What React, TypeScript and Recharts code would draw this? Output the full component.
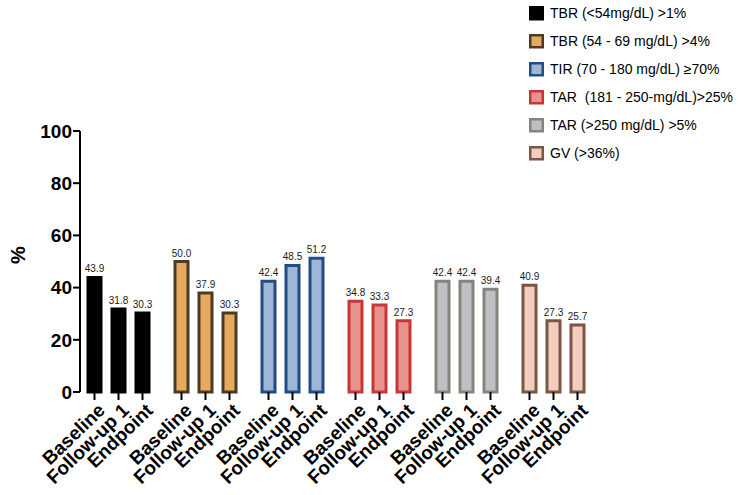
import { BarChart, Bar, XAxis, YAxis, LabelList, Cell } from 'recharts';

const categories = [
  'TBR (<54mg/dL) >1%',
  'TBR (54 - 69 mg/dL) >4%',
  'TIR (70 - 180 mg/dL) ≥70%',
  'TAR  (181 - 250-mg/dL)>25%',
  'TAR (>250 mg/dL) >5%',
  'GV (>36%)',
];
const timepoints = ['Baseline', 'Follow-up 1', 'Endpoint'];
const baseline = [43.9, 50.0, 42.4, 34.8, 42.4, 40.9];
const followUp = [31.8, 37.9, 48.5, 33.3, 42.4, 27.3];
const endpoint = [30.3, 30.3, 51.2, 27.3, 39.4, 25.7];
const yTicks = [0, 20, 40, 60, 80, 100];

const fills = ['#000000', '#E8A95E', '#9EB7D9', '#E8928C', '#BDC1C4', '#F4CDBF'];
const strokes = ['#000000', '#4B3A26', '#234C85', '#C8363A', '#86847D', '#7A5646'];

const seriesKeys = ['baseline', 'followUp', 'endpoint'];
const data = categories.map((name, i) => ({
  name,
  baseline: baseline[i],
  followUp: followUp[i],
  endpoint: endpoint[i],
}));

const FONT = '"Liberation Sans", Arial, Helvetica, sans-serif';

// tick mark + rotated label drawn under each bar
const barTick = (label: string) => (props: any) => {
  const x = Number(props.x);
  const w = Number(props.width);
  const base = Number(props.y) + Number(props.height);
  const cx = x + w / 2;
  const tx = cx + 7;
  const ty = base + 15;
  return (
    <g>
      <line x1={cx} x2={cx} y1={base} y2={base + 8} stroke="#000" strokeWidth={2} />
      <text
        x={tx}
        y={ty}
        dy="0.35em"
        textAnchor="end"
        transform={`rotate(-44 ${tx} ${ty})`}
        fontFamily={FONT}
        fontWeight="bold"
        fontSize={19}
        fill="#000"
      >
        {label}
      </text>
    </g>
  );
};

const PercentLabel = () => (
  <text
    x={18}
    y={255}
    transform="rotate(-90 18 255)"
    textAnchor="middle"
    dominantBaseline="central"
    fontFamily={FONT}
    fontWeight="bold"
    fontSize={20}
    fill="#000"
  >
    %
  </text>
);

function ChartLegend() {
  return (
    <div style={{ position: 'absolute', left: 529, top: 4, fontFamily: FONT, fontSize: 14, color: '#000' }}>
      {categories.map((c, i) => (
        <div key={c} style={{ display: 'flex', alignItems: 'center', height: 18, marginBottom: 10, whiteSpace: 'pre' }}>
          <svg width={16} height={15} style={{ marginRight: 5 }}>
            <rect x={1.25} y={1.25} width={12.5} height={12} fill={fills[i]} stroke={strokes[i]} strokeWidth={2.5} />
          </svg>
          <span>{c}</span>
        </div>
      ))}
    </div>
  );
}

export default function App() {
  return (
    <div style={{ position: 'absolute', left: 0, top: 0, width: 744, height: 495, background: '#fff' }}>
      <BarChart
        width={744}
        height={495}
        data={data}
        margin={{ top: 131, right: 151, left: 20, bottom: 103 }}
        barSize={13}
        barGap={11}
      >
        <XAxis
          dataKey="name"
          height={0}
          tick={false}
          tickLine={false}
          axisLine={{ stroke: '#000', strokeWidth: 2 }}
          padding={{ left: -5, right: -4 }}
        />
        <YAxis
          width={60}
          domain={[0, 100]}
          ticks={yTicks}
          interval={0}
          tickSize={7}
          tickMargin={1}
          axisLine={{ stroke: '#000', strokeWidth: 2 }}
          tickLine={{ stroke: '#000', strokeWidth: 2 }}
          tick={{ fill: '#000', fontFamily: FONT, fontWeight: 'bold', fontSize: 19 }}
          label={<PercentLabel />}
        />
        {seriesKeys.map((key, s) => (
          <Bar key={key} dataKey={key} strokeWidth={3} isAnimationActive={false}>
            {data.map((_, i) => (
              <Cell key={`c-${key}-${i}`} fill={fills[i]} stroke={strokes[i]} />
            ))}
            <LabelList
              dataKey={key}
              position="top"
              offset={5}
              formatter={(v: any) => Number(v).toFixed(1)}
              style={{ fontFamily: FONT, fontSize: 10, fill: '#1a1a1a' }}
            />
            <LabelList dataKey={key} content={barTick(timepoints[s])} />
          </Bar>
        ))}
      </BarChart>
      <ChartLegend />
    </div>
  );
}
